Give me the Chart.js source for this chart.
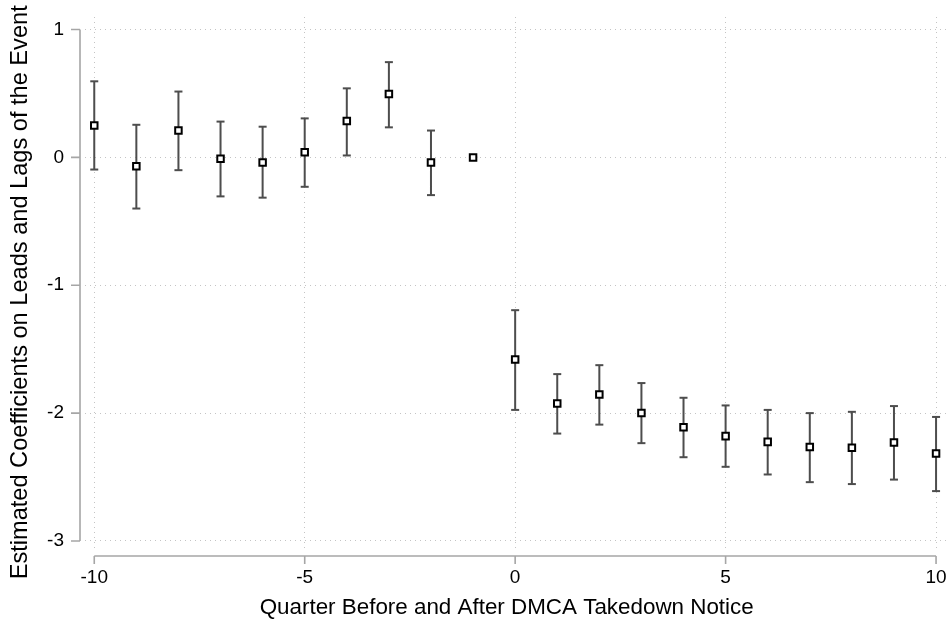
<!DOCTYPE html>
<html>
<head>
<meta charset="utf-8">
<title>Event study: DMCA takedown notices</title>
<script src="https://cdn.jsdelivr.net/npm/chart.js@4.4.1/dist/chart.umd.min.js"></script>
<style>
  html, body { margin: 0; padding: 0; background: #fff; }
  #wrap { width: 947px; height: 624px; }
</style>
</head>
<body>
<div id="wrap"><canvas id="eventChart" width="947" height="624"></canvas></div>
<script>
  // quarters relative to the takedown notice (-1 is the omitted baseline)
  const quarters = [-10, -9, -8, -7, -6, -5, -4, -3, -2, -1, 0, 1, 2, 3, 4, 5, 6, 7, 8, 9, 10];
  const coef   = [0.25, -0.07, 0.21, -0.01, -0.04, 0.04, 0.285, 0.495, -0.04, 0, -1.58, -1.925, -1.855, -2.0, -2.11, -2.18, -2.225, -2.265, -2.27, -2.23, -2.315];
  const ciLow  = [-0.095, -0.40, -0.10, -0.305, -0.315, -0.23, 0.015, 0.235, -0.295, 0, -1.975, -2.16, -2.09, -2.235, -2.345, -2.42, -2.48, -2.54, -2.555, -2.52, -2.61];
  const ciHigh = [0.595, 0.255, 0.515, 0.28, 0.24, 0.305, 0.54, 0.745, 0.21, 0, -1.195, -1.695, -1.625, -1.765, -1.88, -1.94, -1.975, -2.0, -1.99, -1.945, -2.03];

  const xTicks = [-10, -5, 0, 5, 10];
  const yTicks = [1, 0, -1, -2, -3];

  const FONT = '"Liberation Sans", Arial, Helvetica, sans-serif';
  const axisGray = '#a6a6a6';

  // each whisker is its own segment, separated by a gap
  const whiskers = [];
  quarters.forEach((q, i) => {
    whiskers.push({ x: q, y: ciLow[i] });
    whiskers.push({ x: q, y: ciHigh[i] });
    whiskers.push({ x: q, y: null });
  });

  const points = quarters.map((q, i) => ({ x: q, y: coef[i] }));

  // stata-style axes: lines sit a little outside the plot region
  const stataAxes = {
    id: 'stataAxes',
    afterDraw(chart) {
      const { ctx, scales: { x, y } } = chart;
      const yLineX = x.left - 5;
      const xLineY = y.bottom + 8;
      ctx.save();
      ctx.strokeStyle = axisGray;
      ctx.lineWidth = 1.6;
      ctx.beginPath();
      ctx.moveTo(yLineX, y.getPixelForValue(yTicks[0]));
      ctx.lineTo(yLineX, y.getPixelForValue(yTicks[yTicks.length - 1]));
      yTicks.forEach(v => {
        const py = y.getPixelForValue(v);
        ctx.moveTo(yLineX - 9, py);
        ctx.lineTo(yLineX, py);
      });
      ctx.moveTo(x.getPixelForValue(xTicks[0]), xLineY);
      ctx.lineTo(x.getPixelForValue(xTicks[xTicks.length - 1]), xLineY);
      xTicks.forEach(v => {
        const px = x.getPixelForValue(v);
        ctx.moveTo(px, xLineY);
        ctx.lineTo(px, xLineY + 8);
      });
      ctx.stroke();
      ctx.restore();
    }
  };

  const ctx = document.getElementById('eventChart').getContext('2d');
  new Chart(ctx, {
    type: 'scatter',
    data: {
      datasets: [
        {
          label: 'Coefficient',
          data: points,
          order: 0,
          pointStyle: 'rect',
          pointRadius: 4.6,
          pointHoverRadius: 4.6,
          pointBorderWidth: 2,
          pointBorderColor: '#000',
          pointBackgroundColor: '#fff',
          showLine: false
        },
        {
          label: '95% CI',
          data: whiskers,
          order: 1,
          showLine: true,
          spanGaps: false,
          borderColor: '#4d4d4d',
          borderWidth: 2,
          pointStyle: 'line',
          pointRadius: 4,
          pointHoverRadius: 4,
          pointBorderColor: '#4d4d4d',
          pointBorderWidth: 2
        }
      ]
    },
    options: {
      responsive: false,
      animation: false,
      devicePixelRatio: 1,
      layout: { autoPadding: false, padding: { top: 17, right: 0, left: 0, bottom: 0 } },
      plugins: {
        legend: { display: false },
        tooltip: { enabled: false }
      },
      scales: {
        x: {
          type: 'linear',
          min: -10.22,
          max: 10.26,
          afterBuildTicks: s => { s.ticks = xTicks.map(v => ({ value: v })); },
          afterFit: s => { s.height = 76; s.paddingLeft = 0; s.paddingRight = 0; },
          // invisible tick marks push the labels down without adding side padding
          grid: { color: '#c4c4c4', lineWidth: 1, drawTicks: true, tickLength: 18, tickColor: 'rgba(0,0,0,0)' },
          border: { display: false, dash: [1, 4] },
          ticks: {
            padding: 0,
            color: '#000',
            maxRotation: 0,
            font: { family: FONT, size: 19 },
            callback: v => String(v)
          },
          title: {
            display: true,
            // trailing spaces nudge the centred title a little to the left
            text: 'Quarter Before and After DMCA Takedown Notice   ',
            color: '#000',
            font: { family: FONT, size: 22.4 },
            padding: { top: 0, bottom: 3 }
          }
        },
        y: {
          type: 'linear',
          min: -3.055,
          max: 1.098,
          afterBuildTicks: s => { s.ticks = yTicks.map(v => ({ value: v })); },
          afterFit: s => { s.width = 85; s.paddingTop = 0; s.paddingBottom = 0; },
          grid: { color: '#c4c4c4', lineWidth: 1, drawTicks: false },
          border: { display: false, dash: [1, 4] },
          ticks: {
            padding: 21,
            color: '#000',
            font: { family: FONT, size: 19 },
            callback: v => String(v)
          },
          title: {
            display: true,
            // trailing spaces nudge the centred title down a little, as in the original
            text: 'Estimated Coefficients on Leads and Lags of the Event   ',
            color: '#000',
            font: { family: FONT, size: 23.6 },
            padding: { top: 6, bottom: 0 }
          }
        }
      }
    },
    plugins: [stataAxes]
  });
</script>
</body>
</html>
